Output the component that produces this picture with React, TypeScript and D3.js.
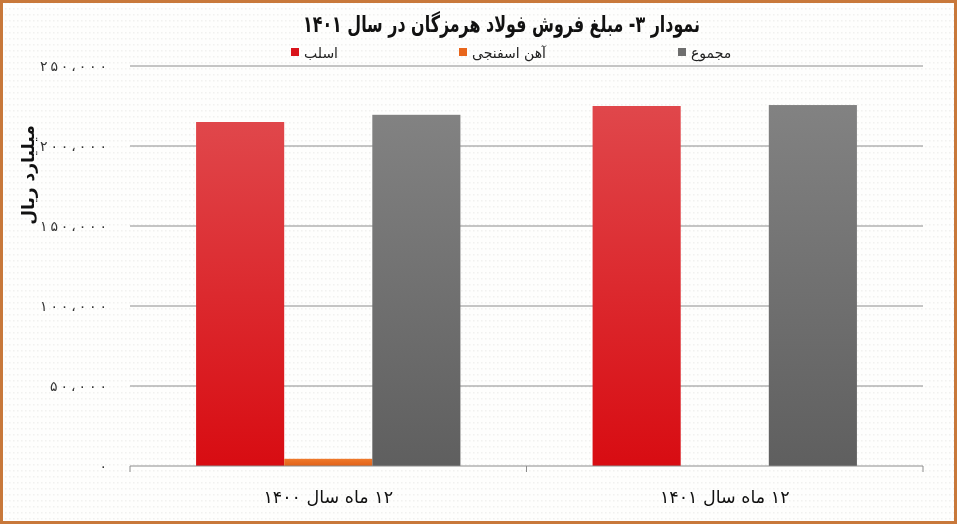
import * as d3 from 'd3';

const categories = ['۱۲ ماه سال ۱۴۰۰', '۱۲ ماه سال ۱۴۰۱'];
const seriesNames = ['اسلب', 'آهن اسفنجی', 'مجموع'];
const slabValues = [215000, 225000];
const spongeIronValues = [4500, 0];
const totalValues = [219500, 225600];
const yTicks = [0, 50000, 100000, 150000, 200000, 250000];

const seriesValues = [slabValues, spongeIronValues, totalValues];
const gradientIds = ['grad-red', 'grad-orange', 'grad-gray'];
const legendColours = ['#d9141b', '#e8661c', '#6e6e6e'];

const WIDTH = 957;
const HEIGHT = 524;
const plot = { left: 130, right: 923, top: 66, bottom: 466 };

function toPersianDigits(text: string): string {
  return text.replace(/\d/g, (d) => '۰۱۲۳۴۵۶۷۸۹'[Number(d)]);
}

function formatTick(value: number): string {
  if (value === 0) return '۰';
  return toPersianDigits(d3.format(',')(value)).replace(/,/g, '،');
}

export default function App() {
  const x0 = d3
    .scaleBand<string>()
    .domain(categories)
    .range([plot.left, plot.right])
    .paddingInner(0)
    .paddingOuter(0);

  const x1 = d3
    .scaleBand<string>()
    .domain(seriesNames)
    .range([0, x0.bandwidth()])
    .paddingInner(0)
    .paddingOuter(0.75);

  const y = d3.scaleLinear().domain([0, 250000]).range([plot.bottom, plot.top]);

  const font = "'DejaVu Sans', sans-serif";
  const legendX = [291, 459, 678];

  return (
    <div style={{ position: 'fixed', left: 0, top: 0 }}>
      <svg width={WIDTH} height={HEIGHT} style={{ display: 'block' }}>
        <defs>
          <linearGradient id="grad-red" x1="0" y1="0" x2="0" y2="1">
            <stop offset="0%" stopColor="#e0474b" />
            <stop offset="100%" stopColor="#d80c12" />
          </linearGradient>
          <linearGradient id="grad-orange" x1="0" y1="0" x2="0" y2="1">
            <stop offset="0%" stopColor="#ef7a2c" />
            <stop offset="100%" stopColor="#e2621a" />
          </linearGradient>
          <linearGradient id="grad-gray" x1="0" y1="0" x2="0" y2="1">
            <stop offset="0%" stopColor="#828282" />
            <stop offset="100%" stopColor="#5f5f5f" />
          </linearGradient>
          <pattern id="dots" width="4" height="6" patternUnits="userSpaceOnUse">
            <rect width="4" height="6" fill="#fefefd" />
            <rect x="1" y="2" width="1.5" height="1.5" fill="#f1f1ef" />
          </pattern>
        </defs>

        <rect x={0} y={0} width={WIDTH} height={HEIGHT} fill="url(#dots)" />
        <rect
          x={1.5}
          y={1.5}
          width={WIDTH - 3}
          height={HEIGHT - 3}
          fill="none"
          stroke="#c8783a"
          strokeWidth={3}
        />

        <text
          x={303}
          y={32}
          textLength={397}
          lengthAdjust="spacingAndGlyphs"
          direction="ltr"
          fontFamily={font}
          fontWeight={700}
          fontSize={23}
          fill="#111"
        >
          نمودار ۳- مبلغ فروش فولاد هرمزگان در سال ۱۴۰۱
        </text>

        {seriesNames.map((name, i) => (
          <g key={name}>
            <rect
              x={legendX[i]}
              y={48}
              width={8}
              height={8}
              fill={legendColours[i]}
            />
            <text
              x={legendX[i] + 13}
              y={58}
              textAnchor="start"
              fontFamily={font}
              fontSize={14}
              fill="#222"
            >
              {name}
            </text>
          </g>
        ))}

        {yTicks.map((t) => {
          const label = formatTick(t);
          const len = label.length > 1 ? (label.length - 1) * 10 + 7 : undefined;
          return (
            <g key={t}>
              {t > 0 && (
                <line
                  x1={plot.left}
                  x2={plot.right}
                  y1={y(t)}
                  y2={y(t)}
                  stroke="#8c8c8c"
                  strokeWidth={1}
                />
              )}
              <text
                x={107}
                y={y(t) + 5}
                textAnchor="end"
                direction="ltr"
                fontFamily={font}
                fontSize={14}
                textLength={len}
                lengthAdjust="spacing"
                fill="#333"
              >
                {label}
              </text>
            </g>
          );
        })}

        <text
          transform={`translate(34,175) rotate(-90)`}
          textAnchor="middle"
          fontFamily={font}
          fontWeight={700}
          fontSize={17}
          fill="#111"
        >
          میلیارد ریال
        </text>

        {categories.map((cat, ci) => (
          <g key={cat} transform={`translate(${x0(cat)},0)`}>
            {seriesNames.map((name, si) => {
              const v = seriesValues[si][ci];
              if (v <= 0) return null;
              return (
                <rect
                  key={name}
                  x={x1(name)}
                  y={y(v)}
                  width={x1.bandwidth()}
                  height={y(0) - y(v)}
                  fill={`url(#${gradientIds[si]})`}
                />
              );
            })}
          </g>
        ))}

        <line
          x1={plot.left}
          x2={plot.right}
          y1={plot.bottom}
          y2={plot.bottom}
          stroke="#8c8c8c"
          strokeWidth={1}
        />
        {[plot.left, ...categories.map((c) => (x0(c) ?? 0) + x0.bandwidth())].map(
          (tx) => (
            <line
              key={tx}
              x1={tx}
              x2={tx}
              y1={plot.bottom}
              y2={plot.bottom + 6}
              stroke="#8c8c8c"
              strokeWidth={1}
            />
          )
        )}

        {categories.map((cat) => (
          <text
            key={cat}
            x={(x0(cat) ?? 0) + x0.bandwidth() / 2}
            y={503}
            textAnchor="middle"
            direction="rtl"
            fontFamily={font}
            fontSize={17.5}
            fill="#111"
          >
            {cat}
          </text>
        ))}
      </svg>
    </div>
  );
}
